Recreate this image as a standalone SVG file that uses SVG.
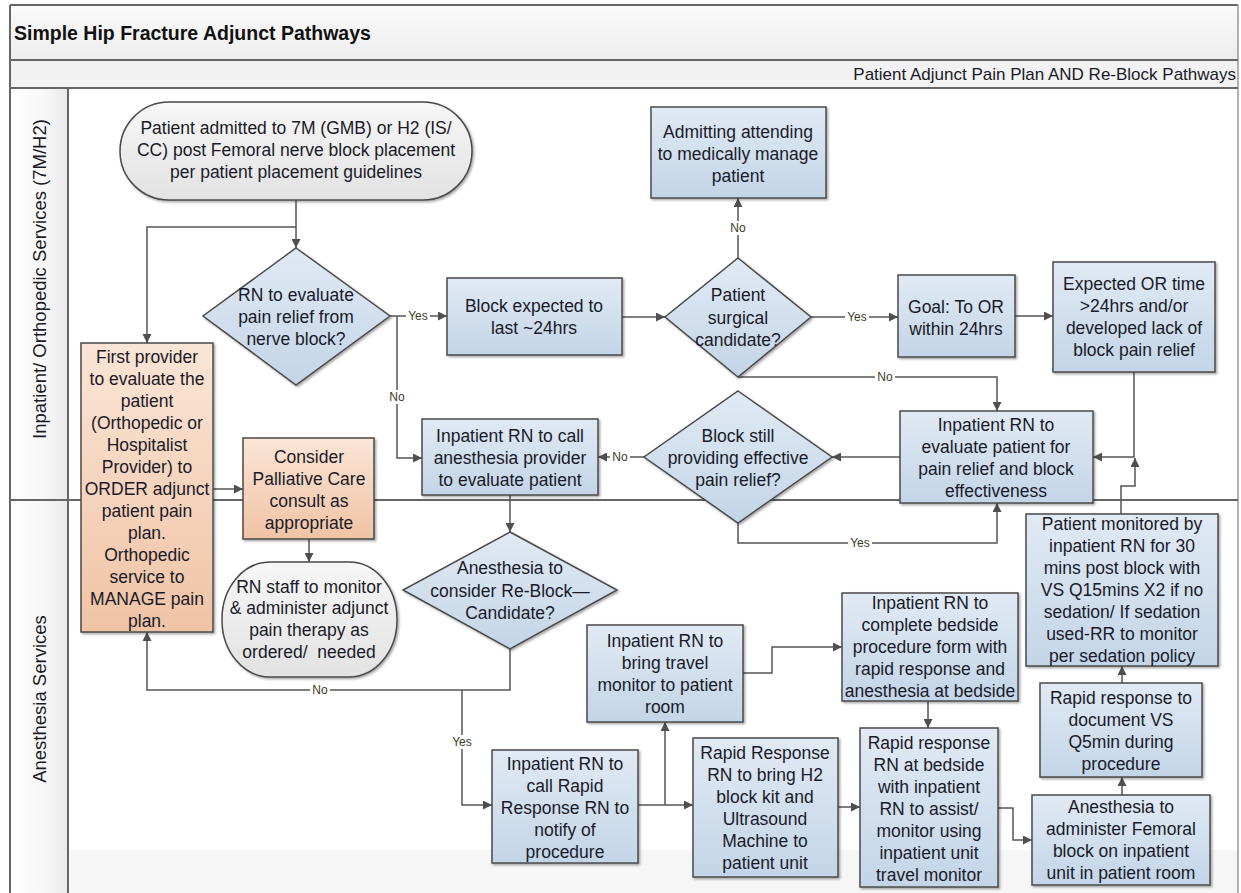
<svg xmlns="http://www.w3.org/2000/svg" width="1241" height="893" viewBox="0 0 1241 893">
<defs>
<linearGradient id="gBlue" x1="0" y1="0" x2="0" y2="1"><stop offset="0" stop-color="#e1eaf4"/><stop offset="1" stop-color="#c3d5e8"/></linearGradient>
<linearGradient id="gOrange" x1="0" y1="0" x2="0" y2="1"><stop offset="0" stop-color="#fbe5d6"/><stop offset="1" stop-color="#f0c3a5"/></linearGradient>
<linearGradient id="gGray" x1="0" y1="0" x2="0" y2="1"><stop offset="0" stop-color="#f7f7f7"/><stop offset="1" stop-color="#e2e2e2"/></linearGradient>
<linearGradient id="gTitle" x1="0" y1="0" x2="0" y2="1"><stop offset="0" stop-color="#fafafa"/><stop offset="1" stop-color="#ededed"/></linearGradient>
<linearGradient id="gLane" x1="0" y1="0" x2="1" y2="0"><stop offset="0" stop-color="#ffffff"/><stop offset="0.6" stop-color="#f7f7f7"/><stop offset="1" stop-color="#e9e9e9"/></linearGradient>
<filter id="sh" x="-10%" y="-10%" width="130%" height="130%"><feDropShadow dx="1.5" dy="1.5" stdDeviation="0.8" flood-color="#000" flood-opacity="0.35"/></filter>
<marker id="arr" viewBox="0 0 10 10" refX="10" refY="5" markerWidth="9" markerHeight="9" markerUnits="userSpaceOnUse" orient="auto"><path d="M0,0 L10,5 L0,10 z" fill="#4f4f4f"/></marker>
</defs>
<style>
.box{fill:url(#gBlue);stroke:#4a4a4a;stroke-width:1.5;filter:url(#sh)}
.obox{fill:url(#gOrange);stroke:#4a4a4a;stroke-width:1.5;filter:url(#sh)}
.term{fill:url(#gGray);stroke:#4a4a4a;stroke-width:1.5;filter:url(#sh)}
.t{font-family:"Liberation Sans",Arial,sans-serif;font-size:17.5px;fill:#1a1a28;text-anchor:middle}
.lbl{font-family:"Liberation Sans",Arial,sans-serif;font-size:12px;fill:#3d3a1e;text-anchor:middle}
.lane{font-family:"Liberation Sans",Arial,sans-serif;font-size:18.5px;fill:#1a1a28;text-anchor:middle}
.c{fill:none;stroke:#555;stroke-width:1.5}
.ca{fill:none;stroke:#555;stroke-width:1.5;marker-end:url(#arr)}
.frame{fill:none;stroke:#666;stroke-width:2}
</style>

<g id="pool">
<rect x="10" y="5" width="1228" height="888" fill="#ffffff"/>
<rect x="10" y="5" width="1228" height="55" fill="url(#gTitle)"/>
<rect x="10" y="60" width="1228" height="28" fill="#f2f2f2"/>
<rect x="68" y="850" width="1170" height="43" fill="#f6f6f6"/>
<rect x="10" y="88" width="58" height="805" fill="url(#gLane)"/>
<line x1="10" y1="5" x2="1238" y2="5" class="frame"/>
<line x1="10" y1="5" x2="10" y2="893" class="frame"/>
<line x1="1238" y1="5" x2="1238" y2="893" stroke="#999" stroke-width="1.5"/>
<line x1="10" y1="60" x2="1238" y2="60" class="frame"/>
<line x1="10" y1="88" x2="1238" y2="88" class="frame"/>
<line x1="68" y1="88" x2="68" y2="893" class="frame"/>
<line x1="10" y1="500" x2="1238" y2="500" class="frame"/>
<text x="14" y="40" font-family="Liberation Sans,Arial,sans-serif" font-size="19.5" font-weight="bold" fill="#111">Simple Hip Fracture Adjunct Pathways</text>
<text x="1236" y="80" font-family="Liberation Sans,Arial,sans-serif" font-size="17" fill="#1a1a28" text-anchor="end">Patient Adjunct Pain Plan AND Re-Block Pathways</text>
<text class="lane" transform="translate(46,279) rotate(-90)">Inpatient/ Orthopedic Services (7M/H2)</text>
<text class="lane" transform="translate(46,699) rotate(-90)">Anesthesia Services</text>
</g>

<g id="connectors">
<path class="ca" d="M296,200 V248"/>
<path class="ca" d="M296,227 H147 V343"/>
<path class="ca" d="M390,316 H447"/>
<path class="ca" d="M397,316 V458 H422"/>
<path class="ca" d="M622,317 H665"/>
<path class="ca" d="M738,258 V198"/>
<path class="ca" d="M811,317 H898"/>
<path class="ca" d="M1015,316 H1053"/>
<path class="ca" d="M738,377 H997 V411"/>
<path class="ca" d="M900,457 H832"/>
<path class="ca" d="M644,457 H598"/>
<path class="ca" d="M738,523 V543 H997 V503"/>
<path class="ca" d="M1134,372 V457 H1093"/>
<path class="ca" d="M1121,514 V486 H1135 V458"/>
<path class="ca" d="M213,489 H243"/>
<path class="ca" d="M309,539 V562"/>
<path class="ca" d="M510,495 V532"/>
<path class="ca" d="M510,649 V690 H147 V632"/>
<path class="ca" d="M462,690 V805 H492"/>
<path class="ca" d="M638,805 H693"/>
<path class="ca" d="M665,805 V722"/>
<path class="ca" d="M743,673 H772 V647 H842"/>
<path class="ca" d="M928,701 V728"/>
<path class="ca" d="M838,807 H860"/>
<path class="ca" d="M998,808 H1013 V840 H1032"/>
<path class="ca" d="M1122,795 V777"/>
<path class="ca" d="M1122,683 V666"/>
<g id="labels">
<rect x="406" y="309" width="24" height="14" fill="#fff"/><text class="lbl" x="418" y="320">Yes</text>
<rect x="387" y="390" width="20" height="14" fill="#fff"/><text class="lbl" x="397" y="401">No</text>
<rect x="728" y="221" width="20" height="14" fill="#fff"/><text class="lbl" x="738" y="232">No</text>
<rect x="845" y="310" width="24" height="14" fill="#fff"/><text class="lbl" x="857" y="321">Yes</text>
<rect x="875" y="370" width="20" height="14" fill="#fff"/><text class="lbl" x="885" y="381">No</text>
<rect x="610" y="450" width="20" height="14" fill="#fff"/><text class="lbl" x="620" y="461">No</text>
<rect x="848" y="536" width="24" height="14" fill="#fff"/><text class="lbl" x="860" y="547">Yes</text>
<rect x="310" y="683" width="20" height="14" fill="#fff"/><text class="lbl" x="320" y="694">No</text>
<rect x="450" y="735" width="24" height="14" fill="#fff"/><text class="lbl" x="462" y="746">Yes</text>
</g>
</g>

<g id="n-start">
<rect class="term" x="120" y="102" width="352" height="98" rx="49" ry="49"/>
<text class="t"><tspan x="296" y="134">Patient admitted to 7M (GMB) or H2 (IS/</tspan><tspan x="296" y="156">CC) post Femoral nerve block placement</tspan><tspan x="296" y="178">per patient placement guidelines</tspan></text>
</g>
<g id="n-eval-relief">
<polygon class="box" points="296,248 390,316 296,385 203,316"/>
<text class="t"><tspan x="296" y="301">RN to evaluate</tspan><tspan x="296" y="323">pain relief from</tspan><tspan x="296" y="345">nerve block?</tspan></text>
</g>
<g id="n-block-24">
<rect class="box" x="447" y="278" width="175" height="77"/>
<text class="t"><tspan x="534" y="312">Block expected to</tspan><tspan x="534" y="334">last ~24hrs</tspan></text>
</g>
<g id="n-surgical">
<polygon class="box" points="738,258 811,317 738,377 665,317"/>
<text class="t"><tspan x="738" y="301">Patient</tspan><tspan x="738" y="324">surgical</tspan><tspan x="738" y="346">candidate?</tspan></text>
</g>
<g id="n-admitting">
<rect class="box" x="651" y="107" width="175" height="91"/>
<text class="t"><tspan x="738" y="138">Admitting attending</tspan><tspan x="738" y="160">to medically manage</tspan><tspan x="738" y="182">patient</tspan></text>
</g>
<g id="n-goal">
<rect class="box" x="898" y="275" width="117" height="82"/>
<text class="t"><tspan x="956" y="313">Goal: To OR</tspan><tspan x="956" y="335">within 24hrs</tspan></text>
</g>
<g id="n-expected">
<rect class="box" x="1053" y="262" width="162" height="110"/>
<text class="t"><tspan x="1134" y="290">Expected OR time</tspan><tspan x="1134" y="312">&gt;24hrs and/or</tspan><tspan x="1134" y="334">developed lack of</tspan><tspan x="1134" y="356">block pain relief</tspan></text>
</g>
<g id="n-eval-effect">
<rect class="box" x="900" y="411" width="193" height="92"/>
<text class="t"><tspan x="996" y="431">Inpatient RN to</tspan><tspan x="996" y="453">evaluate patient for</tspan><tspan x="996" y="475">pain relief and block</tspan><tspan x="996" y="497">effectiveness</tspan></text>
</g>
<g id="n-block-still">
<polygon class="box" points="738,391 832,457 738,523 644,457"/>
<text class="t"><tspan x="738" y="442">Block still</tspan><tspan x="738" y="464">providing effective</tspan><tspan x="738" y="486">pain relief?</tspan></text>
</g>
<g id="n-call-anesthesia">
<rect class="box" x="422" y="419" width="176" height="76"/>
<text class="t"><tspan x="510" y="442">Inpatient RN to call</tspan><tspan x="510" y="464">anesthesia provider</tspan><tspan x="510" y="486">to evaluate patient</tspan></text>
</g>
<g id="n-first-provider">
<rect class="obox" x="81" y="343" width="132" height="289"/>
<text class="t"><tspan x="147" y="363">First provider</tspan><tspan x="147" y="385">to evaluate the</tspan><tspan x="147" y="407">patient</tspan><tspan x="147" y="429">(Orthopedic or</tspan><tspan x="147" y="451">Hospitalist</tspan><tspan x="147" y="473">Provider) to</tspan><tspan x="147" y="495">ORDER adjunct</tspan><tspan x="147" y="517">patient pain</tspan><tspan x="147" y="539">plan.</tspan><tspan x="147" y="561">Orthopedic</tspan><tspan x="147" y="583">service to</tspan><tspan x="147" y="605">MANAGE pain</tspan><tspan x="147" y="627">plan.</tspan></text>
</g>
<g id="n-palliative">
<rect class="obox" x="243" y="438" width="131" height="101"/>
<text class="t"><tspan x="309" y="463">Consider</tspan><tspan x="309" y="485">Palliative Care</tspan><tspan x="309" y="507">consult as</tspan><tspan x="309" y="529">appropriate</tspan></text>
</g>
<g id="n-rn-staff">
<rect class="term" x="222" y="562" width="175" height="115" rx="48" ry="57"/>
<text class="t" style="white-space:pre"><tspan x="309" y="593">RN staff to monitor</tspan><tspan x="309" y="614">&amp; administer adjunct</tspan><tspan x="309" y="636">pain therapy as</tspan><tspan x="309" y="658">ordered/  needed</tspan></text>
</g>
<g id="n-reblock">
<polygon class="box" points="510,532 617,590 510,649 403,590"/>
<text class="t"><tspan x="510" y="574">Anesthesia to</tspan><tspan x="510" y="597">consider Re-Block—</tspan><tspan x="510" y="619">Candidate?</tspan></text>
</g>
<g id="n-call-rapid">
<rect class="box" x="492" y="750" width="146" height="113"/>
<text class="t"><tspan x="565" y="770">Inpatient RN to</tspan><tspan x="565" y="792">call Rapid</tspan><tspan x="565" y="814">Response RN to</tspan><tspan x="565" y="836">notify of</tspan><tspan x="565" y="858">procedure</tspan></text>
</g>
<g id="n-travel">
<rect class="box" x="587" y="625" width="156" height="97"/>
<text class="t"><tspan x="665" y="647">Inpatient RN to</tspan><tspan x="665" y="669">bring travel</tspan><tspan x="665" y="691">monitor to patient</tspan><tspan x="665" y="713">room</tspan></text>
</g>
<g id="n-rr-kit">
<rect class="box" x="693" y="738" width="145" height="139"/>
<text class="t"><tspan x="765" y="759">Rapid Response</tspan><tspan x="765" y="781">RN to bring H2</tspan><tspan x="765" y="803">block kit and</tspan><tspan x="765" y="825">Ultrasound</tspan><tspan x="765" y="847">Machine to</tspan><tspan x="765" y="869">patient unit</tspan></text>
</g>
<g id="n-bedside-form">
<rect class="box" x="842" y="593" width="176" height="108"/>
<text class="t"><tspan x="930" y="609">Inpatient RN to</tspan><tspan x="930" y="631">complete bedside</tspan><tspan x="930" y="653">procedure form with</tspan><tspan x="930" y="675">rapid response and</tspan><tspan x="930" y="697">anesthesia at bedside</tspan></text>
</g>
<g id="n-rr-bedside">
<rect class="box" x="860" y="728" width="138" height="159"/>
<text class="t"><tspan x="929" y="749">Rapid response</tspan><tspan x="929" y="771">RN at bedside</tspan><tspan x="929" y="793">with inpatient</tspan><tspan x="929" y="815">RN to assist/</tspan><tspan x="929" y="837">monitor using</tspan><tspan x="929" y="859">inpatient unit</tspan><tspan x="929" y="881">travel monitor</tspan></text>
</g>
<g id="n-administer">
<rect class="box" x="1032" y="795" width="178" height="90"/>
<text class="t"><tspan x="1121" y="813">Anesthesia to</tspan><tspan x="1121" y="835">administer Femoral</tspan><tspan x="1121" y="857">block on inpatient</tspan><tspan x="1121" y="879">unit in patient room</tspan></text>
</g>
<g id="n-document">
<rect class="box" x="1040" y="683" width="162" height="94"/>
<text class="t"><tspan x="1121" y="704">Rapid response to</tspan><tspan x="1121" y="726">document VS</tspan><tspan x="1121" y="748">Q5min during</tspan><tspan x="1121" y="770">procedure</tspan></text>
</g>
<g id="n-monitored">
<rect class="box" x="1026" y="514" width="192" height="152"/>
<text class="t"><tspan x="1122" y="530">Patient monitored by</tspan><tspan x="1122" y="552">inpatient RN for 30</tspan><tspan x="1122" y="574">mins post block with</tspan><tspan x="1122" y="596">VS Q15mins X2 if no</tspan><tspan x="1122" y="618">sedation/ If sedation</tspan><tspan x="1122" y="640">used-RR to monitor</tspan><tspan x="1122" y="662">per sedation policy</tspan></text>
</g>
</svg>
